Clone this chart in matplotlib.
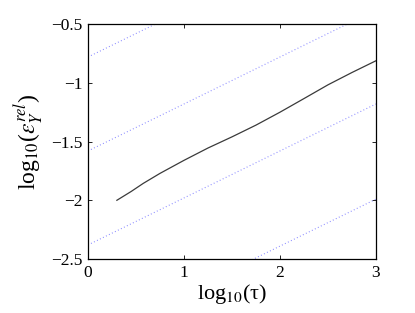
import numpy as np
import matplotlib
matplotlib.use('Agg')
import matplotlib.pyplot as plt

plt.rcParams['font.family'] = ['Liberation Serif', 'DejaVu Serif']
plt.rcParams['mathtext.fontset'] = 'stix'

# measured error curve (log10 tau, log10 eps)
log_tau = [0.301, 0.45, 0.576, 0.75, 1.0, 1.25, 1.5, 1.75, 2.0, 2.25, 2.5, 2.75, 3.0]
log_err = [-2.0, -1.925, -1.856, -1.771, -1.66, -1.555, -1.46, -1.36, -1.25, -1.134, -1.017, -0.912, -0.812]

# reference slope lines
ref_slope = 0.4
ref_icepts = [-0.78, -1.58, -2.38, -3.19]
ref_x = [0, 3]

xticks = [0, 1, 2, 3]
yticks = [-2.5, -2, -1.5, -1, -0.5]
ylabels = ['\u22122.5', '\u22122', '\u22121.5', '\u22121', '\u22120.5']

fig = plt.figure(figsize=(4.15, 3.13), dpi=100)
ax = fig.add_axes([0.212, 0.1725, 0.694, 0.7505])

for b in ref_icepts:
    yy = [b + ref_slope * xx for xx in ref_x]
    ax.plot(ref_x, yy, linestyle=(0, (0.8, 2.2)), color='#8080ff', lw=0.8)

ax.plot(log_tau, log_err, '-', color='#3a3a3a', lw=0.9)

ax.set_xlim(0, 3)
ax.set_ylim(-2.5, -0.5)
ax.set_xticks(xticks)
ax.set_xticklabels([str(t) for t in xticks])
ax.set_yticks(yticks)
ax.set_yticklabels(ylabels)
ax.tick_params(direction='in', top=True, right=True, labelsize=12.5, length=3, width=0.6, pad=4)
for s in ax.spines.values():
    s.set_linewidth(0.9)

ax.set_xlabel(r'log$_{10}$(τ)', fontsize=16, labelpad=1)
ax.set_ylabel(r'log$_{10}$($\varepsilon_Y^{rel}$)', fontsize=17, labelpad=4)

fig.savefig('out.png', dpi=100)
